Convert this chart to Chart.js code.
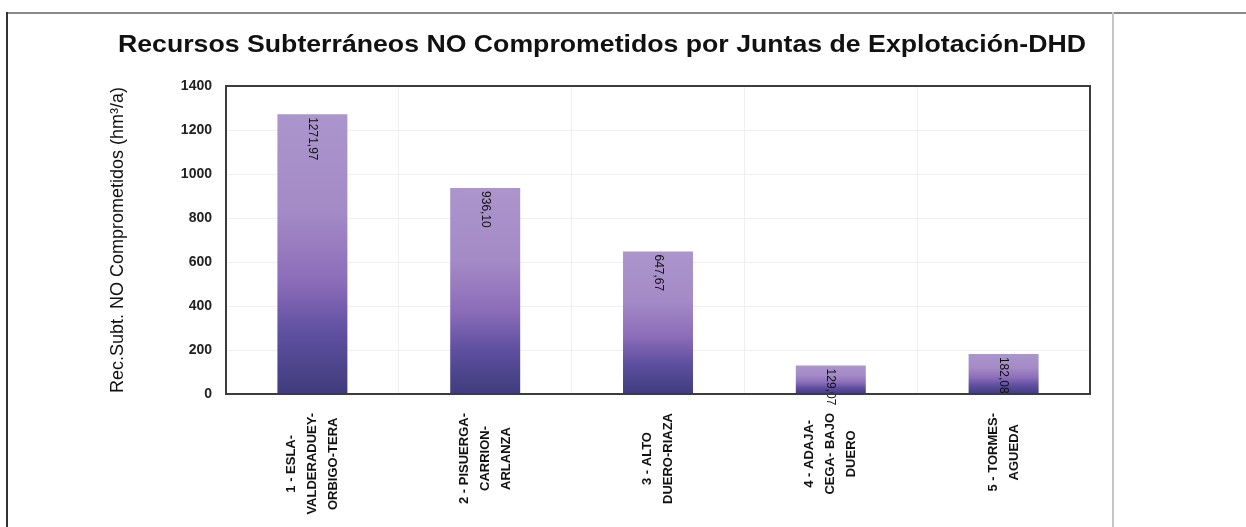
<!DOCTYPE html>
<html>
<head>
<meta charset="utf-8">
<title>Recursos Subterráneos NO Comprometidos</title>
<script src="https://cdn.jsdelivr.net/npm/chart.js@4/dist/chart.umd.min.js"></script>
<style>
  html, body { margin: 0; padding: 0; background: #fff; }
  #wrap { position: relative; width: 1246px; height: 527px; overflow: hidden; }
  #chart-box { position: absolute; left: 0; top: 0; width: 1204px; height: 527px; }
  /* frame lines around the figure */
  .rule-top { position: absolute; left: 7px; top: 12px; width: 1239px; border-top: 2px solid #8a8a8a; }
  .rule-left { position: absolute; left: 6px; top: 12px; height: 515px; border-left: 2px solid #333; }
  .rule-right { position: absolute; left: 1112px; top: 12px; height: 515px; border-left: 2px solid #c6c6c6; }
</style>
</head>
<body>
<div id="wrap">
  <div id="chart-box"><canvas id="recursos"></canvas></div>
  <div class="rule-top"></div>
  <div class="rule-left"></div>
  <div class="rule-right"></div>
</div>
<script>
// Juntas de explotación (one entry per bar, split in lines)
const juntas = [
  ["1 - ESLA-", "VALDERADUEY-", "ORBIGO-TERA"],
  ["2 - PISUERGA-", "CARRION-", "ARLANZA"],
  ["3 - ALTO", "DUERO-RIAZA"],
  ["4 - ADAJA-", "CEGA- BAJO", "DUERO"],
  ["5 - TORMES-", "AGUEDA"]
];
// hm3/año no comprometidos
const recursosNoComprometidos = [1271.97, 936.10, 647.67, 129.07, 182.08];
const yMax = 1400;
const yStep = 200;

const titulo = "Recursos Subterráneos NO Comprometidos por Juntas de Explotación-DHD";
const FONT = "'Liberation Sans', Arial, sans-serif";

const toComa = (v) => v.toFixed(2).replace(".", ",");

// purple gradient per bar, light on top and dark at the base
function barGradient(context) {
  const chart = context.chart;
  if (!chart.chartArea) return "#7e66b4";
  const y = chart.scales.y;
  const top = y.getPixelForValue(context.raw);
  const base = y.getPixelForValue(0);
  const g = chart.ctx.createLinearGradient(0, top, 0, base);
  g.addColorStop(0, "#ab95cc");
  g.addColorStop(0.35, "#a48ac6");
  g.addColorStop(0.6, "#8b6cb9");
  g.addColorStop(0.78, "#5f50a0");
  g.addColorStop(1, "#3f3c7c");
  return g;
}

const recursosPlugin = {
  id: "recursosPlugin",
  afterDatasetsDraw(chart) {
    const ctx = chart.ctx;
    const meta = chart.getDatasetMeta(0);
    ctx.save();
    ctx.fillStyle = "#111";
    ctx.font = "12px " + FONT;
    ctx.textAlign = "left";
    ctx.textBaseline = "middle";
    meta.data.forEach((bar, i) => {
      ctx.save();
      ctx.translate(bar.x, bar.y + 3);
      ctx.rotate(Math.PI / 2);
      ctx.fillText(toComa(recursosNoComprometidos[i]), 0, 0);
      ctx.restore();
    });
    ctx.restore();
  },
  afterDraw(chart) {
    const ctx = chart.ctx;
    const a = chart.chartArea;
    ctx.save();
    // plot box
    ctx.strokeStyle = "#3c3c3c";
    ctx.lineWidth = 2;
    ctx.strokeRect(a.left, a.top, a.right - a.left, a.bottom - a.top);

    // title, a bit wider than the plain font
    ctx.fillStyle = "#111";
    ctx.font = "bold 24px " + FONT;
    ctx.textAlign = "center";
    ctx.textBaseline = "middle";
    const w = ctx.measureText(titulo).width;
    ctx.save();
    ctx.translate(602, 45);
    ctx.scale(968 / w, 1);
    ctx.fillText(titulo, 0, 0);
    ctx.restore();

    // category labels, rotated and centred under each bar
    ctx.font = "bold 13px " + FONT;
    const lh = 21;
    juntas.forEach((lines, i) => {
      const cx = chart.scales.x.getPixelForValue(i);
      const longest = Math.max(...lines.map((l) => ctx.measureText(l).width));
      const cy = a.bottom + 19 + longest / 2;
      ctx.save();
      ctx.translate(cx, cy);
      ctx.rotate(-Math.PI / 2);
      lines.forEach((l, j) => {
        ctx.fillText(l, 0, (j - (lines.length - 1) / 2) * lh);
      });
      ctx.restore();
    });
    ctx.restore();
  }
};

new Chart(document.getElementById("recursos"), {
  type: "bar",
  data: {
    labels: juntas,
    datasets: [{
      data: recursosNoComprometidos,
      backgroundColor: barGradient,
      borderWidth: 0,
      categoryPercentage: 1,
      barPercentage: 0.405
    }]
  },
  options: {
    responsive: true,
    maintainAspectRatio: false,
    animation: false,
    layout: {
      padding: { left: 0, right: 1204 - 1090, top: 86, bottom: 0 }
    },
    plugins: {
      legend: { display: false },
      tooltip: { enabled: false },
      title: { display: false }
    },
    scales: {
      x: {
        grid: { color: "#efefef", offset: true, drawTicks: false },
        border: { display: false },
        ticks: { display: false },
        afterFit(scale) { scale.height = 133; }
      },
      y: {
        min: 0,
        max: yMax,
        grid: { color: "#f0f0f0", drawTicks: false },
        border: { display: false },
        ticks: {
          stepSize: yStep,
          padding: 14,
          color: "#222",
          font: { family: FONT, size: 14, weight: "bold" },
          callback: (v) => String(v)
        },
        title: {
          display: true,
          text: "Rec.Subt. NO Comprometidos (hm³/a)",
          color: "#111",
          font: { family: FONT, size: 18, lineHeight: 1.2 },
          padding: { top: 107, bottom: 0 }
        },
        afterFit(scale) { scale.width = 226; }
      }
    }
  },
  plugins: [recursosPlugin]
});
</script>
</body>
</html>
